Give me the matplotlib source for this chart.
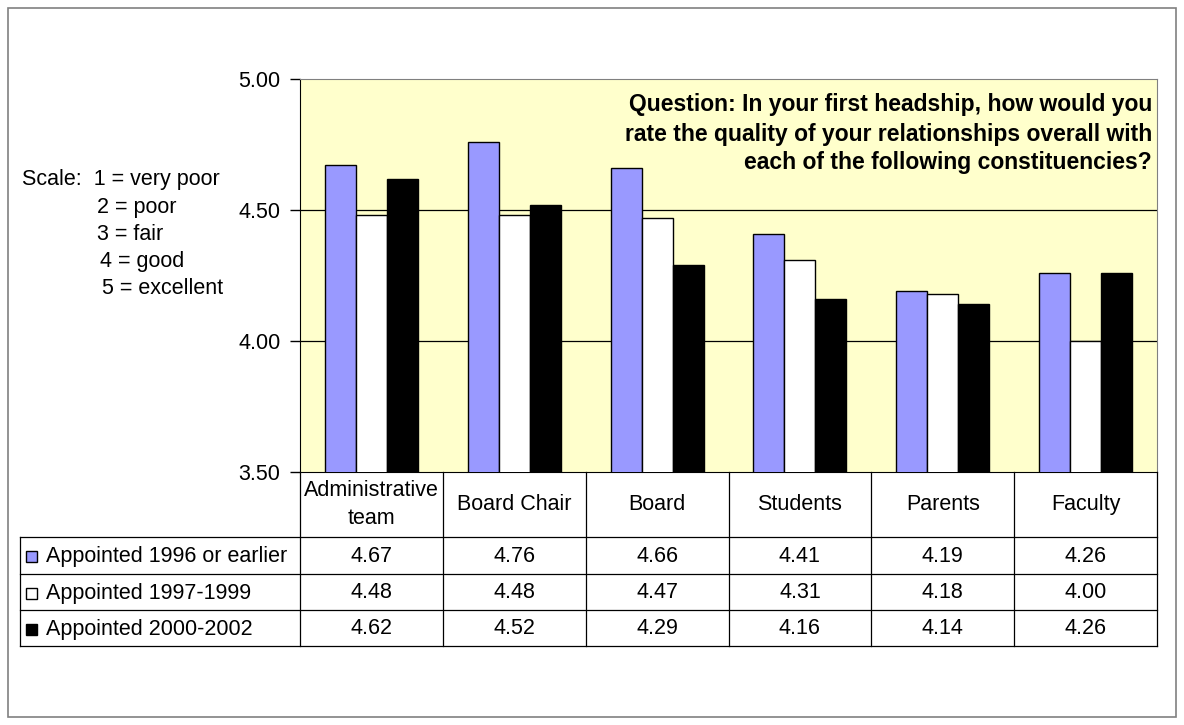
import matplotlib
matplotlib.use("Agg")
import matplotlib.pyplot as plt
from matplotlib.patches import Rectangle
import numpy as np

plt.rcParams['font.family'] = ['Liberation Sans', 'DejaVu Sans']

categories = ['Administrative\nteam', 'Board Chair', 'Board', 'Students', 'Parents', 'Faculty']
series_names = ['Appointed 1996 or earlier', 'Appointed 1997-1999', 'Appointed 2000-2002']
appointed_1996 = [4.67, 4.76, 4.66, 4.41, 4.19, 4.26]
appointed_1997 = [4.48, 4.48, 4.47, 4.31, 4.18, 4.00]
appointed_2000 = [4.62, 4.52, 4.29, 4.16, 4.14, 4.26]
yticks = [3.50, 4.00, 4.50, 5.00]
scale_lines = ['Scale:  1 = very poor', '2 = poor', '3 = fair', '4 = good', '5 = excellent']
question_lines = ['Question: In your first headship, how would you',
                  'rate the quality of your relationships overall with',
                  'each of the following constituencies?']

series = [appointed_1996, appointed_1997, appointed_2000]
colors = ['#9999FF', '#FFFFFF', '#000000']

W, H = 1184, 725
fig = plt.figure(figsize=(W / 100, H / 100), dpi=100)
fs = 15.5


def px(xp, yp):
    # pixel position (top-left origin) -> figure fraction
    return xp / W, 1 - yp / H


# outer frame
fig.add_artist(Rectangle(px(8, 717), 1168 / W, 709 / H, transform=fig.transFigure,
                         fill=False, edgecolor='#808080', lw=1.2))

# plot area in pixels
x0, x1, ytop, ybot = 300, 1157, 79, 472
ax = fig.add_axes([x0 / W, 1 - ybot / H, (x1 - x0) / W, (ybot - ytop) / H])
ax.set_facecolor('#FFFFCC')
n = len(categories)
x = np.arange(n)
bw = 0.217
for i, (vals, c) in enumerate(zip(series, colors)):
    ax.bar(x + (i - 1) * bw, vals, width=bw, color=c, edgecolor='black', linewidth=1, zorder=3)
ax.set_xlim(-0.5, n - 0.5)
ax.set_ylim(3.5, 5.0)
ax.set_yticks(yticks)
ax.set_yticklabels([f'{t:.2f}' for t in yticks], fontsize=fs)
ax.tick_params(axis='y', direction='out', length=7, width=1, pad=7)
ax.set_xticks([])
for t in [4.0, 4.5]:
    ax.axhline(t, color='black', lw=0.9, zorder=1)
ax.spines['top'].set_color('#808080')
ax.spines['right'].set_color('#808080')
ax.spines['left'].set_color('black')
ax.spines['bottom'].set_color('black')

for line, yy in zip(question_lines, [104, 134, 163]):
    fig.text(*px(1152, yy), line, ha='right', va='center', fontsize=16.5, fontweight='bold')

# scale text
for line, (xx, yy) in zip(scale_lines, [(22, 180), (97, 208), (97, 235), (100, 262), (102, 289)]):
    fig.text(*px(xx, yy), line, fontsize=fs, va='center')

# data table
tl, tb = 20, 646
axt = fig.add_axes([tl / W, 1 - tb / H, (x1 - tl) / W, (tb - ybot) / H])
axt.set_xlim(tl, x1)
axt.set_ylim(tb, ybot)
axt.axis('off')
cols = np.linspace(x0, x1, n + 1)
rows = [537, 574, 610, 646]
lc = 'black'
lw = 0.9
for cx in cols:
    axt.plot([cx, cx], [ybot, tb], color=lc, lw=lw, clip_on=False)
axt.plot([tl, tl], [rows[0], tb], color=lc, lw=lw, clip_on=False)
for ry in rows:
    axt.plot([tl, x1], [ry, ry], color=lc, lw=lw, clip_on=False)
for j, cat in enumerate(categories):
    axt.text((cols[j] + cols[j + 1]) / 2, (ybot + rows[0]) / 2, cat, ha='center', va='center',
             fontsize=fs, linespacing=1.4)
for i, (name, vals, c) in enumerate(zip(series_names, series, colors)):
    yc = (rows[i] + rows[i + 1]) / 2 + 1
    axt.add_patch(Rectangle((26, yc - 5.5), 11, 11, facecolor=c, edgecolor='black', lw=1))
    axt.text(46, yc, name, ha='left', va='center', fontsize=fs)
    for j, v in enumerate(vals):
        axt.text((cols[j] + cols[j + 1]) / 2, yc, f'{v:.2f}', ha='center', va='center', fontsize=fs)

fig.savefig('out.png', dpi=100)
